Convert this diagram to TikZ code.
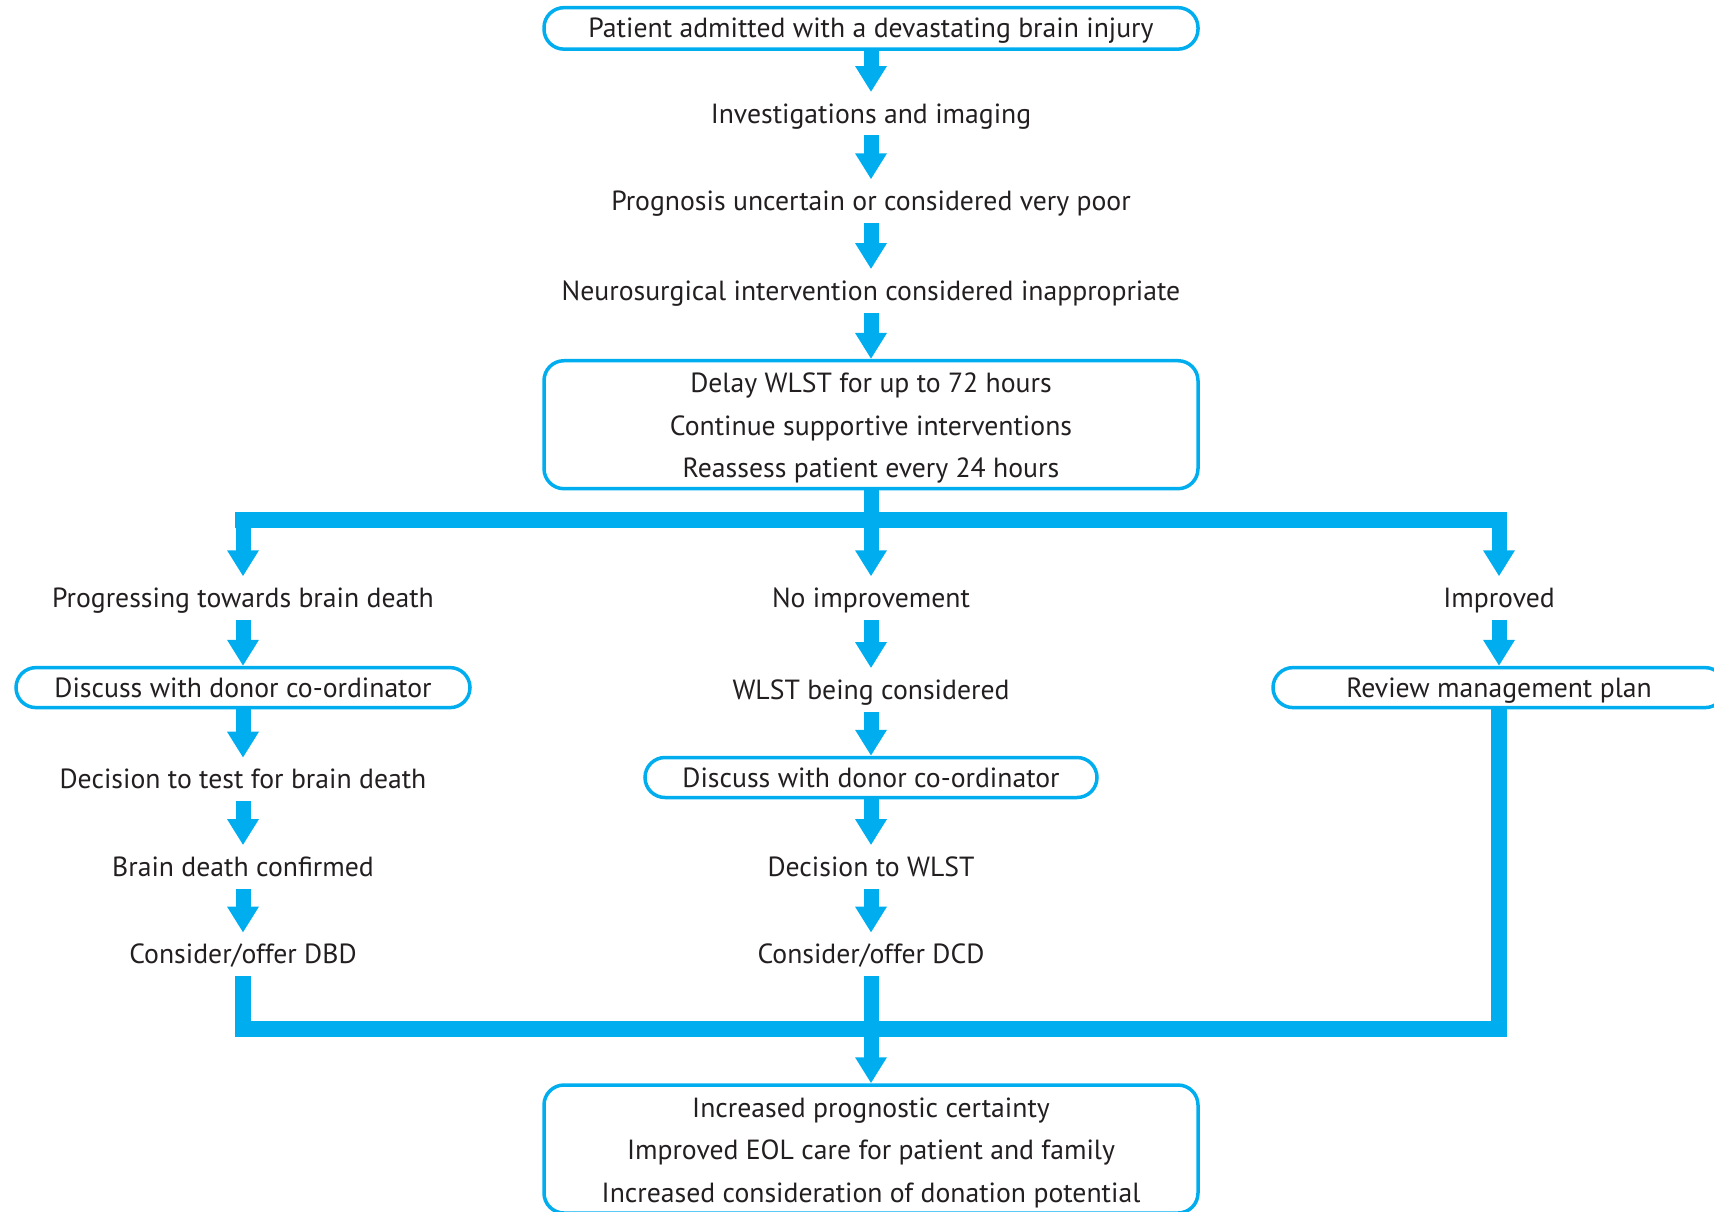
\documentclass[tikz,border=0pt]{standalone}
\usepackage{fontspec}
\setmainfont{PT Sans}
\usetikzlibrary{arrows.meta}
\definecolor{flowblue}{HTML}{00AEEF}
\definecolor{ink}{HTML}{231F20}
% taller first line so the three-line panels sit a little lower in their frames
\newcommand{\panelstrut}{\rule{0pt}{27pt}}

\begin{document}
\begin{tikzpicture}[x=1pt,y=-1pt,
  every node/.style={font=\fontsize{27.7}{42.5}\selectfont, text=ink},
  steptext/.style={inner xsep=0pt, inner ysep=7pt, text height=24pt, text depth=5pt},
  pill/.style={draw=flowblue, line width=3.5pt, rounded corners=20pt,
    minimum height=40pt, inner sep=0pt, text height=24pt, text depth=5pt},
  panel/.style={draw=flowblue, line width=3.5pt, rounded corners=20pt,
    minimum width=654pt, minimum height=128pt, align=center, inner sep=0pt},
  fatarrow/.style={draw=flowblue, line width=15pt, -{Triangle[width=30pt,length=26pt]}},
  bar/.style={draw=flowblue, line width=16pt},
]
\useasboundingbox (0,0) rectangle (1714,1211);
\clip (0,0) rectangle (1714,1211);

% main trunk
\node[pill, minimum width=654pt, minimum height=41.5pt] (admit) at (871,28.4)
  {Patient admitted with a devastating brain injury};
\node[steptext] (inv) at (871,113.7) {Investigations and imaging};
\node[steptext] (prog) at (871,201) {Prognosis uncertain or considered very poor};
\node[steptext] (neuro) at (871,290.8) {Neurosurgical intervention considered inappropriate};
\node[panel] (delay) at (871,424.7)
  {\panelstrut Delay WLST for up to 72 hours\\Continue supportive interventions\\Reassess patient every 24 hours};

% branch heads
\node[steptext] (pbd) at (243,598) {Progressing towards brain death};
\node[steptext] (noimp) at (871,598) {No improvement};
\node[steptext] (imp) at (1499,598) {Improved};

% left branch
\node[pill, minimum width=454pt] (discL) at (243,687.6) {Discuss with donor co-ordinator};
\node[steptext] (test) at (243,779.4) {Decision to test for brain death};
\node[steptext] (bdc) at (243,866.8) {Brain death confirmed};
\node[steptext] (dbd) at (243,954.3) {Consider/offer DBD};

% middle branch
\node[steptext] (wlstc) at (871,689.8) {WLST being considered};
\node[pill, minimum width=452pt] (discM) at (871,777.5) {Discuss with donor co-ordinator};
\node[steptext] (wlst) at (871,866.8) {Decision to WLST};
\node[steptext] (dcd) at (871,954.3) {Consider/offer DCD};

% right branch
\node[pill, minimum width=452pt] (review) at (1499,687.6) {Review management plan};

% outcome
\node[panel] (outcome) at (871,1149)
  {\panelstrut Increased prognostic certainty\\Improved EOL care for patient and family\\Increased consideration of donation potential};

% fork and join rails
\coordinate (fork) at (871,520);
\coordinate (join) at (871,1028.6);
\draw[bar, line cap=rect] (pbd.north |- fork) -- (imp.north |- fork);
\draw[bar, line cap=rect] (dbd.south |- join) -- (review.south |- join);

% trunk arrows
\draw[fatarrow] (admit.south) -- (inv.north);
\draw[fatarrow] (inv.south) -- (prog.north);
\draw[fatarrow] (prog.south) -- (neuro.north);
\draw[fatarrow] (neuro.south) -- (delay.north);
\draw[fatarrow] (delay.south) -- (noimp.north);
\draw[fatarrow] (pbd.north |- fork) -- (pbd.north);
\draw[fatarrow] (imp.north |- fork) -- (imp.north);

% left column
\draw[fatarrow] (pbd.south) -- (discL.north);
\draw[fatarrow] (discL.south) -- (test.north);
\draw[fatarrow] (test.south) -- (bdc.north);
\draw[fatarrow] (bdc.south) -- (dbd.north);
\draw[bar] (dbd.south) -- (dbd.south |- join);

% middle column
\draw[fatarrow] (noimp.south) -- (wlstc.north);
\draw[fatarrow] (wlstc.south) -- (discM.north);
\draw[fatarrow] (discM.south) -- (wlst.north);
\draw[fatarrow] (wlst.south) -- (dcd.north);
\draw[fatarrow] (dcd.south) -- (outcome.north);

% right column
\draw[fatarrow] (imp.south) -- (review.north);
\draw[bar] (review.south) -- (review.south |- join);
\end{tikzpicture}
\end{document}
